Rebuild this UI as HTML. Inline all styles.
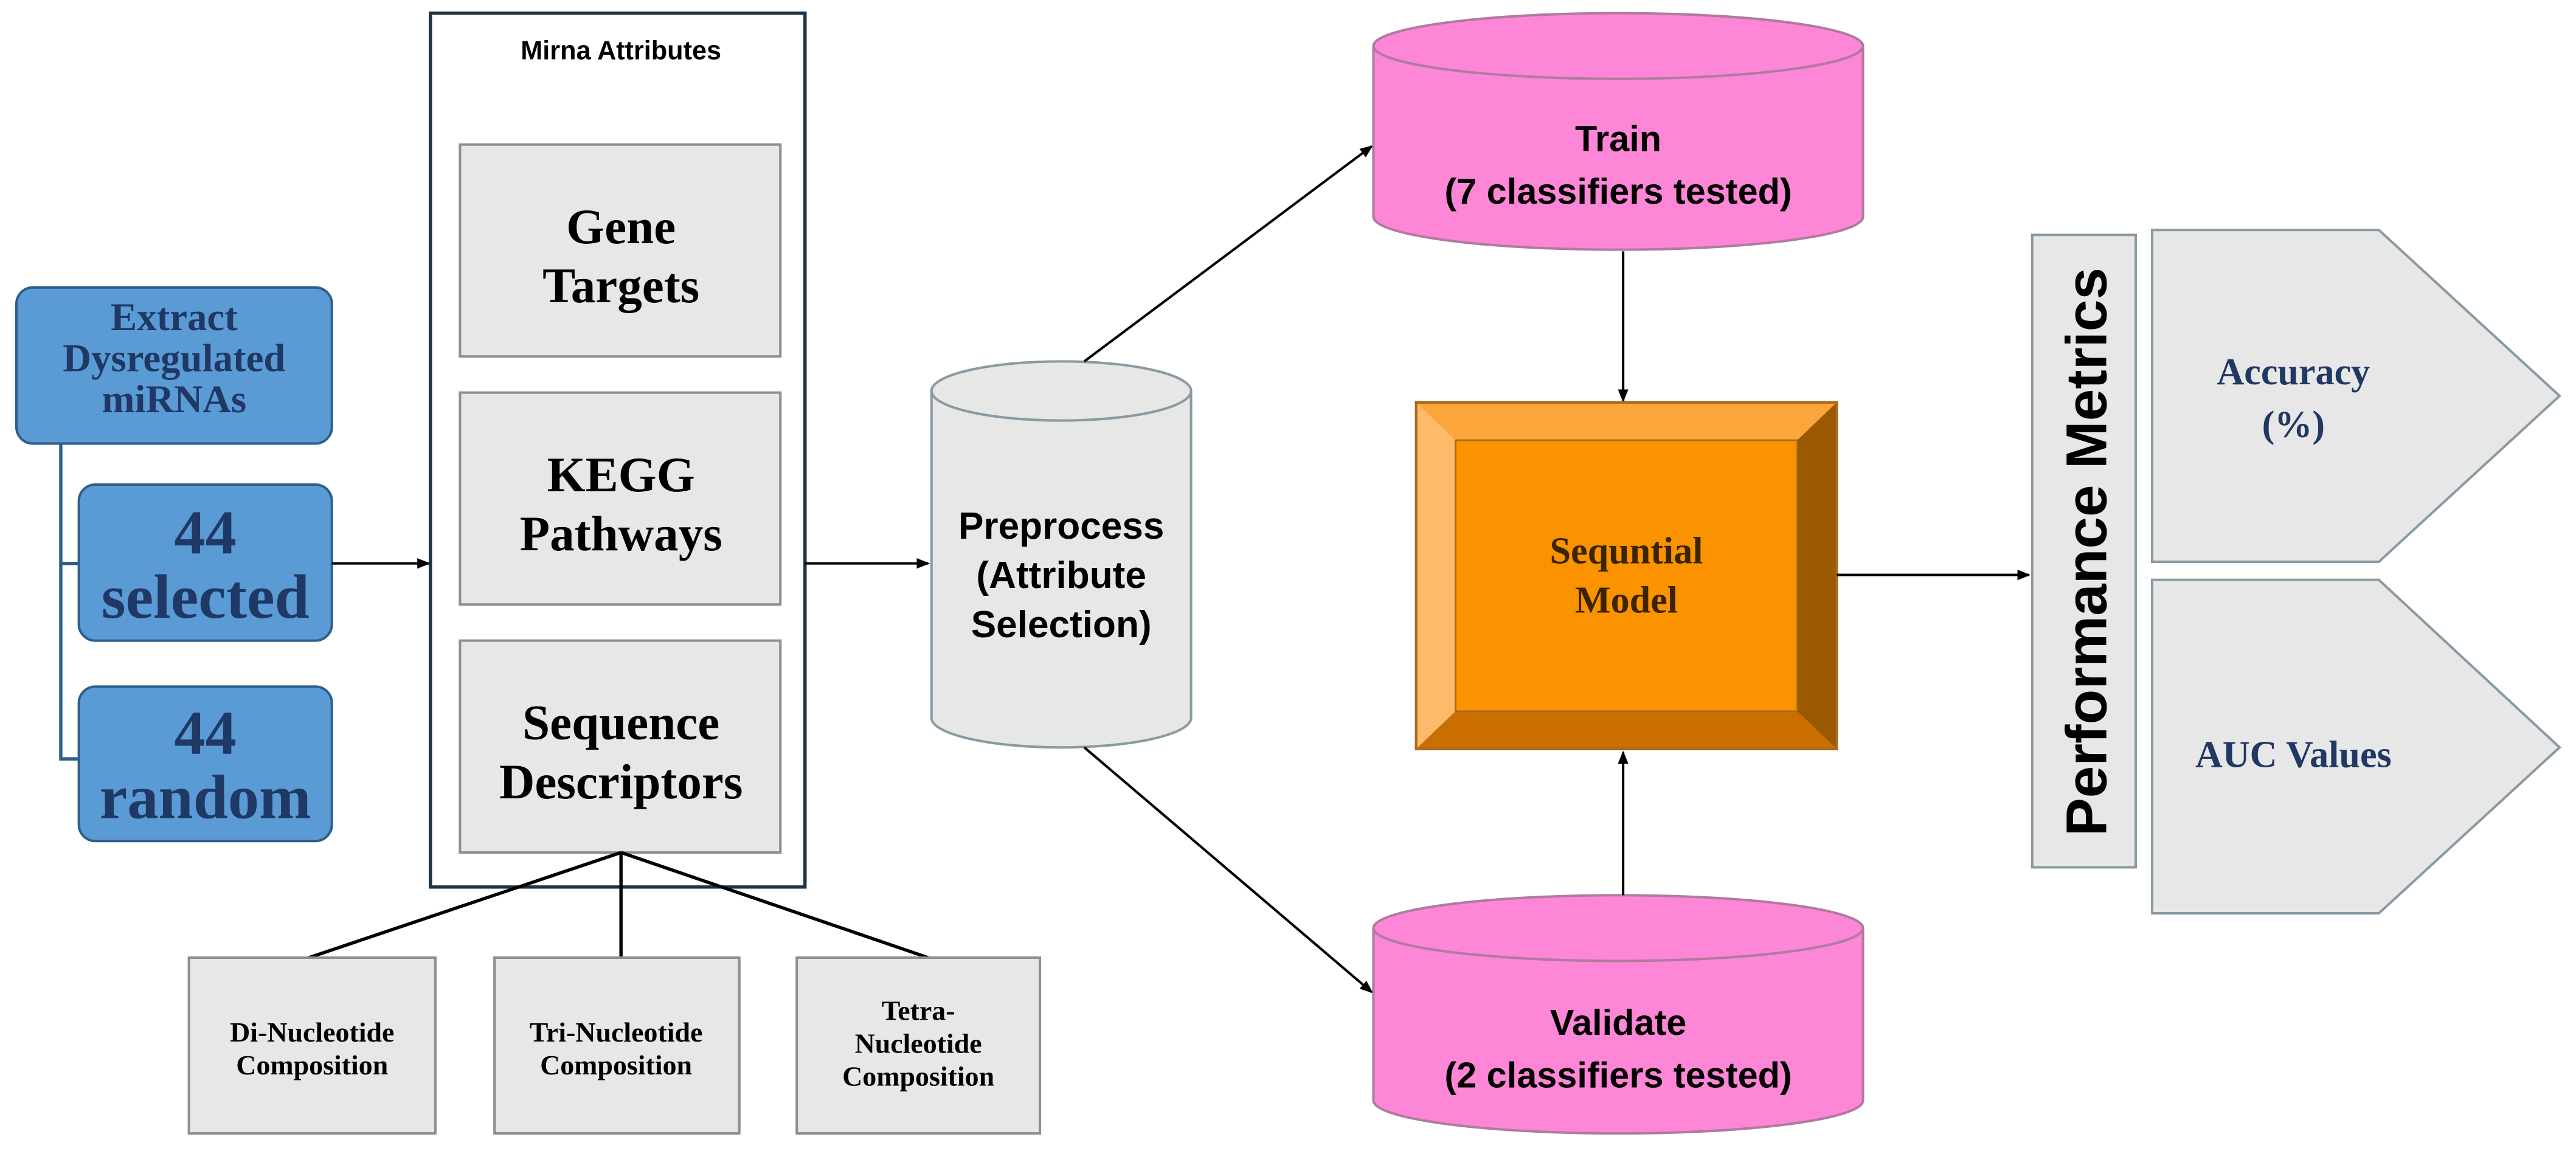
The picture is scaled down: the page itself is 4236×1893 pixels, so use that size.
<!DOCTYPE html>
<html><head><meta charset="utf-8"><style>
html,body{margin:0;padding:0;background:#fff;}
svg{display:block;}
.serif{font-family:"Liberation Serif",serif;font-weight:bold;}
.sans{font-family:"Liberation Sans",sans-serif;font-weight:bold;}
</style></head><body>
<svg width="4236" height="1893" viewBox="0 0 1568 700.7" xmlns="http://www.w3.org/2000/svg">
<defs>
<marker id="ah" markerWidth="8" markerHeight="8" refX="7" refY="4" orient="auto" markerUnits="userSpaceOnUse">
<path d="M0,0.8 L8,4 L0,7.2 Z" fill="#000"/></marker>
</defs>
<rect width="1568" height="700.7" fill="#fff"/>

<path d="M37,270 V462 H48 M37,343 H48" fill="none" stroke="#2e5f8a" stroke-width="2"/>
<rect x="10" y="175" width="192" height="95" rx="10" fill="#5b9bd5" stroke="#2e5f8a" stroke-width="1.5"/>
<text class="serif" fill="#1f3864" font-size="24" text-anchor="middle"><tspan x="106" y="201">Extract</tspan><tspan x="106" y="226">Dysregulated</tspan><tspan x="106" y="251">miRNAs</tspan></text>
<rect x="48" y="295" width="154" height="95" rx="10" fill="#5b9bd5" stroke="#2e5f8a" stroke-width="1.5"/>
<text class="serif" fill="#1f3864" font-size="38" text-anchor="middle"><tspan x="125" y="337">44</tspan><tspan x="125" y="376">selected</tspan></text>
<rect x="48" y="418" width="154" height="94" rx="10" fill="#5b9bd5" stroke="#2e5f8a" stroke-width="1.5"/>
<text class="serif" fill="#1f3864" font-size="38" text-anchor="middle"><tspan x="125" y="459">44</tspan><tspan x="125" y="498">random</tspan></text>
<line x1="202" y1="343" x2="261" y2="343" stroke="#000" stroke-width="1.5" marker-end="url(#ah)"/>

<rect x="262" y="8" width="228" height="532" fill="#fff" stroke="#1b3345" stroke-width="2"/>
<text class="sans" x="378" y="36" font-size="16" text-anchor="middle" fill="#000">Mirna Attributes</text>
<g fill="#e7e7e7" stroke="#8e8e8e" stroke-width="1.5">
<rect x="280" y="88" width="195" height="129"/>
<rect x="280" y="239" width="195" height="129"/>
<rect x="280" y="390" width="195" height="129"/>
</g>
<text class="serif" font-size="30" text-anchor="middle" fill="#000"><tspan x="378" y="148">Gene</tspan><tspan x="378" y="184">Targets</tspan></text>
<text class="serif" font-size="30" text-anchor="middle" fill="#000"><tspan x="378" y="299">KEGG</tspan><tspan x="378" y="335">Pathways</tspan></text>
<text class="serif" font-size="30" text-anchor="middle" fill="#000"><tspan x="378" y="450">Sequence</tspan><tspan x="378" y="486">Descriptors</tspan></text>

<path d="M378,519 L188,583 M378,519 V583 M378,519 L565,583" stroke="#000" stroke-width="2" fill="none"/>
<g fill="#e7e7e7" stroke="#8e8e8e" stroke-width="1.5">
<rect x="115" y="583" width="150" height="107"/>
<rect x="301" y="583" width="149" height="107"/>
<rect x="485" y="583" width="148" height="107"/>
</g>
<text class="serif" font-size="17" text-anchor="middle" fill="#000"><tspan x="190" y="634">Di-Nucleotide</tspan><tspan x="190" y="654">Composition</tspan></text>
<text class="serif" font-size="17" text-anchor="middle" fill="#000"><tspan x="375" y="634">Tri-Nucleotide</tspan><tspan x="375" y="654">Composition</tspan></text>
<text class="serif" font-size="17" text-anchor="middle" fill="#000"><tspan x="559" y="621">Tetra-</tspan><tspan x="559" y="641">Nucleotide</tspan><tspan x="559" y="661">Composition</tspan></text>

<line x1="490" y1="343" x2="565" y2="343" stroke="#000" stroke-width="1.5" marker-end="url(#ah)"/>

<path d="M567,238 V437 A79,18 0 0 0 725,437 V238" fill="#e7e7e7" stroke="#8a9aa3" stroke-width="1.5"/>
<ellipse cx="646" cy="238" rx="79" ry="18" fill="#e7e7e7" stroke="#8a9aa3" stroke-width="1.5"/>
<text class="sans" font-size="23" text-anchor="middle" fill="#000"><tspan x="646" y="328">Preprocess</tspan><tspan x="646" y="358">(Attribute</tspan><tspan x="646" y="388">Selection)</tspan></text>

<line x1="660" y1="220" x2="835" y2="89" stroke="#000" stroke-width="1.5" marker-end="url(#ah)"/>
<line x1="660" y1="455" x2="835" y2="604" stroke="#000" stroke-width="1.5" marker-end="url(#ah)"/>

<path d="M836,28 V132 A149,20 0 0 0 1134,132 V28" fill="#fd86d6" stroke="#b07aa0" stroke-width="1.5"/>
<ellipse cx="985" cy="28" rx="149" ry="20" fill="#fd86d6" stroke="#b07aa0" stroke-width="1.5"/>
<text class="sans" font-size="22" text-anchor="middle" fill="#000"><tspan x="985" y="92">Train</tspan><tspan x="985" y="124">(7 classifiers tested)</tspan></text>

<path d="M836,565 V670 A149,20 0 0 0 1134,670 V565" fill="#fd86d6" stroke="#b07aa0" stroke-width="1.5"/>
<ellipse cx="985" cy="565" rx="149" ry="20" fill="#fd86d6" stroke="#b07aa0" stroke-width="1.5"/>
<text class="sans" font-size="22" text-anchor="middle" fill="#000"><tspan x="985" y="630">Validate</tspan><tspan x="985" y="662">(2 classifiers tested)</tspan></text>

<line x1="988" y1="153" x2="988" y2="244" stroke="#000" stroke-width="1.5" marker-end="url(#ah)"/>
<line x1="988" y1="545" x2="988" y2="458" stroke="#000" stroke-width="1.5" marker-end="url(#ah)"/>

<rect x="862" y="245" width="256" height="211" fill="#fb9200" stroke="#a56a1c" stroke-width="1.5"/>
<polygon points="862,245 1118,245 1094,268 886,268" fill="#fca53a"/>
<polygon points="862,245 886,268 886,433 862,456" fill="#fdba6a"/>
<polygon points="1118,245 1118,456 1094,433 1094,268" fill="#9a5800"/>
<polygon points="862,456 886,433 1094,433 1118,456" fill="#c96e00"/>
<rect x="886" y="268" width="208" height="165" fill="#fb9200" stroke="#a56a1c" stroke-width="1"/>
<rect x="862" y="245" width="256" height="211" fill="none" stroke="#a56a1c" stroke-width="1.5"/>
<text class="serif" font-size="23" text-anchor="middle" fill="#3b2500"><tspan x="990" y="343">Sequntial</tspan><tspan x="990" y="373">Model</tspan></text>

<line x1="1118" y1="350" x2="1235" y2="350" stroke="#000" stroke-width="1.5" marker-end="url(#ah)"/>

<rect x="1237" y="143" width="63" height="385" fill="#e7e7e7" stroke="#8a9aa3" stroke-width="1.5"/>
<text class="sans" font-size="35" text-anchor="middle" fill="#000" transform="translate(1282,336) rotate(-90)">Performance Metrics</text>
<polygon points="1310,140 1448,140 1558,241 1448,342 1310,342" fill="#e7e7e7" stroke="#8a9aa3" stroke-width="1.5"/>
<polygon points="1310,353 1448,353 1558,455 1448,556 1310,556" fill="#e7e7e7" stroke="#8a9aa3" stroke-width="1.5"/>
<text class="serif" font-size="23" text-anchor="middle" fill="#1f3864"><tspan x="1396" y="234">Accuracy</tspan><tspan x="1396" y="266">(%)</tspan></text>
<text class="serif" font-size="23" text-anchor="middle" fill="#1f3864" x="1396" y="467">AUC Values</text>
</svg>
</body></html>
